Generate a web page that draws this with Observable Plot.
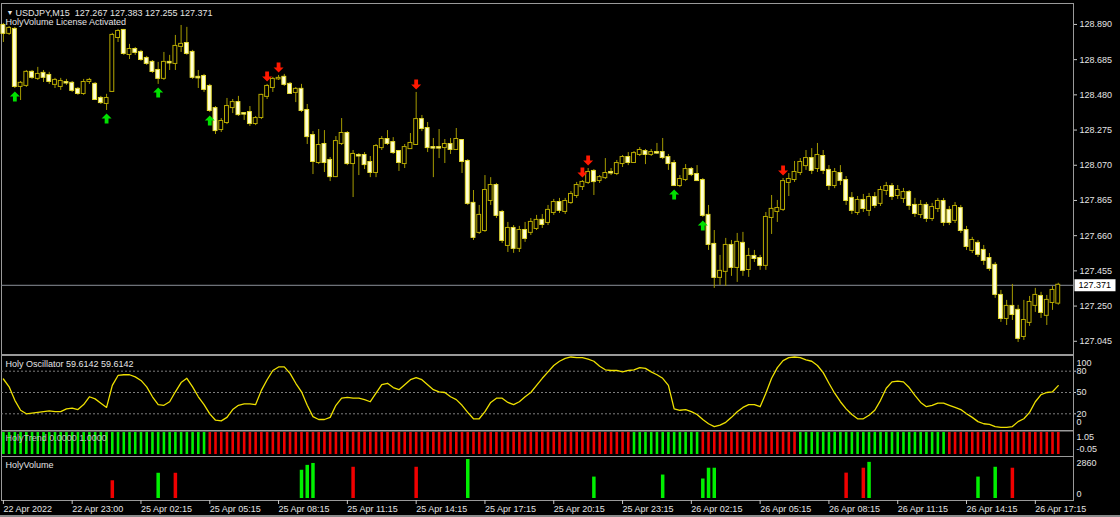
<!DOCTYPE html>
<html><head><meta charset="utf-8">
<script src="https://cdn.jsdelivr.net/npm/d3@7"></script>
<script src="https://cdn.jsdelivr.net/npm/@observablehq/plot@0.6"></script>
<style>
html,body{margin:0;padding:0;background:#000;}
#chart{position:relative;width:1120px;height:517px;background:#000;overflow:hidden;}
#chart svg{position:absolute;left:0;overflow:visible;}
#bottomEdge{position:absolute;left:0;top:515px;width:1120px;height:2px;background:#8a8a8a;}
</style></head><body><div id="chart"><div id="bottomEdge"></div></div>
<script>
// ---------------- data ----------------
const symbolName = "USDJPY";
const timeframe = "M15";
const open = [
128.884,128.838,128.861,128.529,128.535,128.611,128.576,128.605,128.593,128.541,
128.529,128.552,128.547,128.512,128.488,128.558,128.541,128.459,128.430,128.500,
128.814,128.855,128.715,128.744,128.727,128.692,128.669,128.622,128.576,128.669,
128.663,128.762,128.779,128.727,128.582,128.587,128.529,128.400,128.278,128.319,
128.406,128.435,128.371,128.377,128.313,128.348,128.471,128.523,128.573,128.582,
128.541,128.494,128.512,128.389,128.243,128.086,128.191,128.098,128.004,128.197,
128.255,128.080,128.127,128.127,128.086,128.028,128.173,128.220,128.202,128.150,
128.080,128.167,128.191,128.336,128.284,128.173,128.173,128.173,128.191,128.162,
128.214,128.092,127.848,127.679,127.690,127.865,127.952,127.795,127.603,127.702,
127.586,127.690,127.679,127.702,127.749,127.737,127.795,127.853,127.801,127.853,
127.894,127.946,127.970,128.034,127.981,127.998,128.028,128.022,128.080,128.115,
128.086,128.133,128.150,128.133,128.144,128.144,128.115,128.080,127.952,127.987,
128.045,128.016,127.981,127.778,127.609,127.417,127.452,127.603,127.475,127.615,
127.463,127.539,127.527,127.487,127.766,127.801,127.813,127.970,127.987,128.028,
128.068,128.109,128.051,128.121,128.040,127.952,128.022,127.981,127.877,127.795,
127.865,127.807,127.882,127.848,127.923,127.946,127.894,
127.877,127.911,127.836,127.783,127.836,127.760,127.818,127.859,127.807,127.749,
127.818,127.690,127.574,127.615,127.574,127.527,127.487,127.312,127.178,127.248,
127.225,127.073,127.155,127.254,127.306,127.196,127.271,127.267];
const high = [
128.896,128.878,128.873,128.558,128.622,128.622,128.640,128.622,128.611,128.576,
128.576,128.570,128.558,128.523,128.570,128.576,128.552,128.471,128.483,128.838,
128.861,128.861,128.774,128.756,128.739,128.704,128.680,128.669,128.727,128.710,
128.826,128.884,128.873,128.739,128.622,128.599,128.541,128.412,128.342,128.459,
128.453,128.471,128.377,128.412,128.354,128.483,128.541,128.582,128.593,128.599,
128.552,128.523,128.541,128.424,128.266,128.278,128.272,128.115,128.237,128.342,
128.266,128.156,128.138,128.144,128.121,128.191,128.237,128.272,128.231,128.156,
128.191,128.255,128.494,128.360,128.319,128.226,128.278,128.220,128.226,128.284,
128.220,128.103,127.923,127.836,128.010,127.998,127.964,127.807,127.737,127.719,
127.714,127.737,127.760,127.778,127.783,127.836,127.871,127.877,127.877,127.917,
127.970,127.981,128.051,128.045,128.010,128.109,128.051,128.098,128.127,128.144,
128.150,128.173,128.162,128.162,128.197,128.226,128.133,128.098,128.010,128.074,
128.057,128.068,127.993,127.836,127.690,127.545,127.644,127.632,127.673,127.679,
127.586,127.574,127.545,127.795,127.894,127.865,127.993,128.022,128.092,128.109,
128.156,128.167,128.197,128.156,128.068,128.051,128.068,128.004,127.911,127.888,
127.900,127.906,127.911,127.946,127.970,127.964,127.952,
127.935,127.923,127.877,127.865,127.853,127.848,127.877,127.877,127.830,127.853,
127.836,127.714,127.650,127.632,127.603,127.556,127.504,127.341,127.283,127.376,
127.254,127.283,127.306,127.353,127.330,127.312,127.364,127.383];
const low = [
128.785,128.826,128.517,128.447,128.523,128.570,128.564,128.552,128.541,128.517,
128.506,128.535,128.494,128.477,128.477,128.541,128.447,128.424,128.389,128.494,
128.785,128.710,128.686,128.710,128.675,128.651,128.605,128.541,128.564,128.622,
128.622,128.727,128.710,128.570,128.517,128.494,128.377,128.249,128.261,128.307,
128.371,128.354,128.331,128.296,128.301,128.336,128.453,128.494,128.564,128.529,
128.483,128.435,128.377,128.191,128.016,128.074,128.028,127.975,127.998,128.185,
128.068,127.882,128.010,128.045,127.998,127.998,128.156,128.185,128.133,128.034,
128.051,128.162,128.185,128.266,128.144,127.998,128.109,128.080,128.133,128.156,
128.022,127.836,127.632,127.667,127.679,127.836,127.760,127.615,127.562,127.557,
127.562,127.621,127.661,127.690,127.702,127.719,127.778,127.789,127.783,127.842,
127.877,127.923,127.958,127.894,127.964,127.987,128.010,128.010,128.057,128.068,
128.080,128.121,128.074,128.121,128.133,128.103,128.040,127.946,127.940,127.975,
128.004,127.975,127.766,127.574,127.353,127.370,127.364,127.423,127.388,127.423,
127.417,127.504,127.458,127.458,127.667,127.737,127.801,127.888,127.970,128.010,
128.040,128.016,128.028,128.016,127.923,127.934,127.952,127.836,127.783,127.778,
127.795,127.772,127.818,127.830,127.894,127.865,127.871,
127.848,127.807,127.766,127.760,127.737,127.743,127.795,127.714,127.719,127.731,
127.673,127.574,127.556,127.533,127.487,127.452,127.295,127.155,127.137,127.166,
127.038,127.050,127.132,127.213,127.178,127.137,127.225,127.255];
const close = [
128.838,128.867,128.529,128.547,128.611,128.582,128.599,128.582,128.558,128.564,
128.558,128.549,128.506,128.488,128.552,128.564,128.453,128.435,128.459,128.826,
128.849,128.721,128.744,128.727,128.686,128.663,128.616,128.576,128.669,128.666,
128.762,128.774,128.721,128.582,128.579,128.512,128.389,128.272,128.325,128.412,
128.435,128.365,128.368,128.313,128.342,128.477,128.529,128.570,128.576,128.541,
128.488,128.512,128.389,128.237,128.092,128.185,128.086,128.004,128.208,128.255,
128.080,128.133,128.124,128.074,128.028,128.179,128.220,128.197,128.144,128.086,
128.173,128.197,128.336,128.284,128.173,128.170,128.170,128.191,128.162,128.220,
128.092,127.848,127.650,127.778,127.923,127.952,127.778,127.632,127.702,127.586,
127.690,127.644,127.737,127.749,127.725,127.807,127.853,127.807,127.859,127.900,
127.952,127.970,128.028,127.975,127.998,128.022,128.025,128.080,128.115,128.086,
128.138,128.156,128.133,128.144,128.141,128.115,128.080,127.952,127.987,128.045,
128.016,127.981,127.778,127.609,127.417,127.452,127.603,127.475,127.621,127.458,
127.539,127.527,127.487,127.766,127.813,127.818,127.975,127.987,128.028,128.086,
128.109,128.040,128.127,128.040,127.952,128.028,127.981,127.865,127.807,127.865,
127.818,127.882,127.836,127.923,127.946,127.888,127.923,
127.911,127.836,127.789,127.836,127.760,127.824,127.859,127.737,127.737,127.830,
127.690,127.597,127.632,127.551,127.516,127.469,127.318,127.178,127.248,127.201,
127.062,127.166,127.271,127.312,127.213,127.283,127.341,127.371];

const oscillator = [
69,58,39,25,20,21,22,23,24,23, 23,27,28,26,33,44,41,35,29,60,
74,75,75,72,67,58,44,33,32,37, 51,64,70,58,44,33,20,11,10,15,
26,32,34,34,33,53,68,81,86,86, 77,63,51,32,16,12,12,15,32,42,
43,42,42,40,37,49,61,63,57,54, 61,68,71,68,61,54,51,50,44,40,
32,22,13,13,23,36,42,42,36,33, 37,44,50,60,70,79,88,94,98,100,
99,99,97,94,87,82,81,81,79,81, 82,85,84,79,75,70,60,27,25,26,
23,19,12,6,2,4,8,15,23,29, 33,33,30,49,70,85,95,99,100,99,
96,94,88,78,63,49,37,27,19,13, 13,18,25,39,56,65,66,
65,57,46,36,30,32,35,35,32,29, 26,20,15,9,6,5,2,1,1,2,
9,13,22,37,47,50,51,59.6142];

// HolyTrend: bar where each run starts and its state (1 = up/green, 0 = down/red)
const trendSwitchBars = [0, 36, 110, 122, 139, 165];
const trendSwitchState = [1, 0, 1, 0, 1, 0];

// HolyVolume spikes
const volumeBarIndex = [19, 27, 30, 52, 53, 54, 61, 72, 81, 103, 115, 122, 123, 124, 147, 150, 151, 170, 173, 176];
const volumeValue    = [1300,1850,1850,2070,2430,2570,2290,2290,2860,1570,1720,1430,2220,2220,1860,2220,2650,1570,2290,2220];
const volumeUp       = [0,1,0,1,1,1,0,0,1,1,1,1,1,1,0,0,1,1,1,0];

// signal arrows
const buyBars = [2, 18, 27, 36, 117, 122];
const sellBars = [46, 48, 72, 101, 102, 136];

// axis ticks
const priceTicks = [128.890, 128.685, 128.480, 128.275, 128.070, 127.865, 127.660, 127.455, 127.250, 127.045];
const oscLevels = [80, 50, 20];
const volumeTicks = [2860, 0];
const timeLabelBars = [0, 12, 24, 36, 48, 60, 72, 84, 96, 108, 120, 132, 144, 156, 168, 180];
const timeLabels = ["22 Apr 2022","22 Apr 23:00","25 Apr 02:15","25 Apr 05:15","25 Apr 08:15","25 Apr 11:15",
  "25 Apr 14:15","25 Apr 17:15","25 Apr 20:15","25 Apr 23:15","26 Apr 02:15","26 Apr 05:15",
  "26 Apr 08:15","26 Apr 11:15","26 Apr 14:15","26 Apr 17:15"];

// ---------------- drawing ----------------
const chart = document.getElementById("chart");
const N = close.length;
const bars = d3.range(N);
const W = 1120, ML = 1, MR = 47;
const xDomain = [-0.33, 186.66];
const frameColor = "#9a9a9a";
const textColor = "#e4e4e4";
const font = "'Liberation Sans', Arial, sans-serif";
const baseStyle = {background: "transparent", color: textColor, fontFamily: font, fontSize: "9px", overflow: "visible"};

function place(svg, top) { svg.style.top = top + "px"; chart.appendChild(svg); }

const upArrow = {draw(ctx, size) { const r = Math.sqrt(size / Math.PI);
  ctx.moveTo(0, -r); ctx.lineTo(r, 0); ctx.lineTo(0.38 * r, 0); ctx.lineTo(0.38 * r, r);
  ctx.lineTo(-0.38 * r, r); ctx.lineTo(-0.38 * r, 0); ctx.lineTo(-r, 0); ctx.closePath(); }};
const downArrow = {draw(ctx, size) { const r = Math.sqrt(size / Math.PI);
  ctx.moveTo(0, r); ctx.lineTo(r, 0); ctx.lineTo(0.38 * r, 0); ctx.lineTo(0.38 * r, -r);
  ctx.lineTo(-0.38 * r, -r); ctx.lineTo(-0.38 * r, 0); ctx.lineTo(-r, 0); ctx.closePath(); }};
const priceBox = {draw(ctx, size) { ctx.rect(1, -6, 41, 12); }};

const candles = bars.map(i => ({i, o: open[i], h: high[i], l: low[i], c: close[i]}));
const bull = candles.filter(d => d.c >= d.o);
const bear = candles.filter(d => d.c < d.o);
const last = N - 1;
const title = `${symbolName},${timeframe}\u00a0\u00a0${open[last].toFixed(3)} ${high[last].toFixed(3)} ${low[last].toFixed(3)} ${close[last].toFixed(3)}`;

const pricePlot = Plot.plot({
  width: W, height: 356, marginLeft: ML, marginRight: MR, marginTop: 3, marginBottom: 2,
  style: baseStyle,
  x: {domain: xDomain, axis: null, label: null},
  y: {domain: [126.968, 129.012], axis: null, label: null},
  marks: [
    Plot.frame({stroke: frameColor}),
    Plot.ruleY([close[last]], {stroke: "#8b9099", strokeWidth: 1}),
    Plot.ruleX(candles, {x: "i", y1: "l", y2: "h", stroke: "#a49a00", strokeWidth: 1}),
    Plot.rect(bull, {x1: d => d.i - 0.34, x2: d => d.i + 0.34, y1: "o", y2: "c", fill: "#000", stroke: "#b8aa00", strokeWidth: 1, insetTop: -0.5, insetBottom: -0.5}),
    Plot.rect(bear, {x1: d => d.i - 0.34, x2: d => d.i + 0.34, y1: "o", y2: "c", fill: "#ffffd6", stroke: "#e6dc30", strokeWidth: 1, insetTop: -0.5, insetBottom: -0.5}),
    Plot.dot(buyBars, {x: d => d, y: d => low[d], symbol: upArrow, r: 5, fill: "#00e000", dy: 8}),
    Plot.dot(sellBars, {x: d => d, y: d => high[d], symbol: downArrow, r: 5, fill: "#ff1800", dy: -8}),
    Plot.axisY(priceTicks, {anchor: "right", label: null, tickSize: 3, tickPadding: 3, tickFormat: d => d.toFixed(3), stroke: "#c8c8c8", fill: textColor}),
    Plot.dot([close[last]], {y: d => d, frameAnchor: "right", symbol: priceBox, fill: "#ffffff", r: 3}),
    Plot.text([close[last]], {y: d => d, frameAnchor: "right", dx: 5, text: d => d.toFixed(3), textAnchor: "start", fill: "#000"}),
    Plot.text(["\u25BC"], {frameAnchor: "top-left", dx: 5, dy: 9, lineAnchor: "middle", fontSize: 7, fill: textColor}),
    Plot.text([title], {frameAnchor: "top-left", dx: 14, dy: 9.3, lineAnchor: "middle", fill: textColor}),
    Plot.text(["HolyVolume License Activated"], {frameAnchor: "top-left", dx: 4, dy: 18.7, lineAnchor: "middle", fill: textColor})
  ]
});
place(pricePlot, 0);

const oscPlot = Plot.plot({
  width: W, height: 77, marginLeft: ML, marginRight: MR, marginTop: 1, marginBottom: 1,
  style: baseStyle,
  x: {domain: xDomain, axis: null, label: null},
  y: {domain: [-3.5, 102.1], axis: null, label: null},
  marks: [
    Plot.frame({stroke: frameColor}),
    Plot.ruleY(oscLevels, {stroke: "#7c7c7c", strokeDasharray: "2,2"}),
    Plot.line(bars, {x: d => d, y: d => oscillator[d], stroke: "#eee000", strokeWidth: 1.3}),
    Plot.axisY(oscLevels, {anchor: "right", label: null, tickSize: 2, tickPadding: 1, tickFormat: d => String(d), stroke: "#c8c8c8", fill: textColor}),
    Plot.text([100], {y: d => d, frameAnchor: "right", dx: 3, dy: 6, text: d => String(d), textAnchor: "start", fill: textColor}),
    Plot.text([0], {y: d => d, frameAnchor: "right", dx: 3, dy: -5.5, text: d => String(d), textAnchor: "start", fill: textColor}),
    Plot.text([`Holy Oscillator ${oscillator[last].toFixed(4)} ${oscillator[last].toFixed(4)}`], {frameAnchor: "top-left", dx: 4, dy: 9, lineAnchor: "middle", fill: textColor})
  ]
});
place(oscPlot, 354);

function trendAt(i) { let s = trendSwitchState[0]; trendSwitchBars.forEach((b, k) => { if (i >= b) s = trendSwitchState[k]; }); return s; }
const trendUp = bars.filter(i => trendAt(i) === 1);
const trendDn = bars.filter(i => trendAt(i) === 0);
const trendPlot = Plot.plot({
  width: W, height: 28, marginLeft: ML, marginRight: MR, marginTop: 1.5, marginBottom: 1,
  style: baseStyle,
  x: {domain: xDomain, axis: null, label: null},
  y: {domain: [-0.091, 1.068], axis: null, label: null},
  marks: [
    Plot.frame({stroke: frameColor}),
    Plot.ruleX(trendUp, {x: d => d, y1: 0, y2: 1, stroke: "#00f000", strokeWidth: 2.6}),
    Plot.ruleX(trendDn, {x: d => d, y1: 0, y2: 1, stroke: "#f00000", strokeWidth: 2.6}),
    Plot.text([1.05], {y: d => d, frameAnchor: "right", dx: 3, dy: 6, text: d => d.toFixed(2), textAnchor: "start", fill: textColor}),
    Plot.text([-0.05], {y: d => d, frameAnchor: "right", dx: 3, dy: -6, text: d => d.toFixed(2), textAnchor: "start", fill: textColor}),
    Plot.text([`HolyTrend ${(0).toFixed(4)} ${(1).toFixed(4)}`], {frameAnchor: "top-left", dx: 4, dy: 7.5, lineAnchor: "middle", fill: "#c4c4c4"})
  ]
});
place(trendPlot, 429);

const vols = volumeBarIndex.map((b, k) => ({b, v: volumeValue[k], up: volumeUp[k]}));
const volPlot = Plot.plot({
  width: W, height: 62, marginLeft: ML, marginRight: MR, marginTop: 1, marginBottom: 17,
  style: baseStyle,
  x: {domain: xDomain, axis: null, label: null},
  y: {domain: [-146.7, 3080], axis: null, label: null},
  marks: [
    Plot.frame({stroke: frameColor}),
    Plot.ruleX(vols.filter(d => d.up), {x: "b", y1: 0, y2: "v", stroke: "#00f000", strokeWidth: 3.5}),
    Plot.ruleX(vols.filter(d => !d.up), {x: "b", y1: 0, y2: "v", stroke: "#f00000", strokeWidth: 3.5}),
    Plot.text([volumeTicks[0]], {y: d => d, frameAnchor: "right", dx: 3, dy: 3.7, text: d => String(d), textAnchor: "start", fill: textColor}),
    Plot.text([volumeTicks[1]], {y: d => d, frameAnchor: "right", dx: 3, dy: -4, text: d => String(d), textAnchor: "start", fill: textColor}),
    Plot.axisX(timeLabelBars, {anchor: "bottom", label: null, tickSize: 4, tickPadding: 1, textAnchor: "start",
      tickFormat: d => timeLabels[timeLabelBars.indexOf(d)], stroke: "#c8c8c8", fill: textColor}),
    Plot.text(["HolyVolume"], {frameAnchor: "top-left", dx: 4, dy: 8.5, lineAnchor: "middle", fill: textColor})
  ]
});
place(volPlot, 455);
</script></body></html>
